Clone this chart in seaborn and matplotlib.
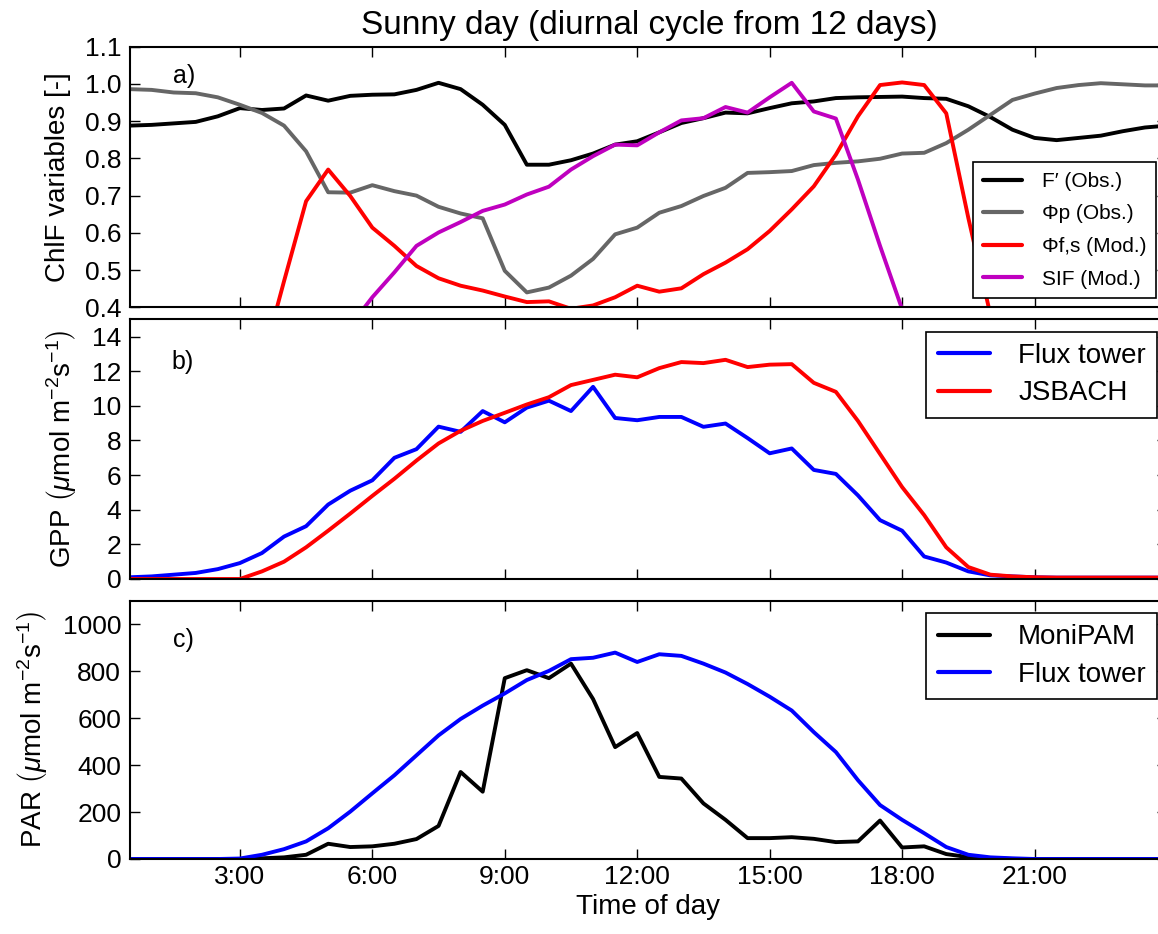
import matplotlib
matplotlib.use("Agg")
import matplotlib.pyplot as plt
import seaborn as sns

# ---------------- data ----------------
hours = [0.5, 1.0, 1.5, 2.0, 2.5, 3.0, 3.5, 4.0, 4.5, 5.0,
         5.5, 6.0, 6.5, 7.0, 7.5, 8.0, 8.5, 9.0, 9.5, 10.0,
         10.5, 11.0, 11.5, 12.0, 12.5, 13.0, 13.5, 14.0, 14.5, 15.0,
         15.5, 16.0, 16.5, 17.0, 17.5, 18.0, 18.5, 19.0, 19.5, 20.0,
         20.5, 21.0, 21.5, 22.0, 22.5, 23.0, 23.5, 24.0]

f_obs = [0.888, 0.890, 0.894, 0.898, 0.913, 0.935, 0.930, 0.934, 0.969, 0.955,
         0.968, 0.971, 0.972, 0.984, 1.003, 0.986, 0.944, 0.890, 0.783, 0.783,
         0.795, 0.813, 0.837, 0.846, 0.870, 0.895, 0.908, 0.923, 0.921, 0.935,
         0.948, 0.953, 0.962, 0.964, 0.965, 0.966, 0.962, 0.960, 0.940, 0.911,
         0.877, 0.855, 0.849, 0.855, 0.861, 0.873, 0.883, 0.888]

phi_p = [0.986, 0.984, 0.977, 0.975, 0.964, 0.944, 0.922, 0.888, 0.819, 0.709,
         0.708, 0.728, 0.712, 0.700, 0.670, 0.652, 0.639, 0.498, 0.440, 0.453,
         0.485, 0.530, 0.596, 0.614, 0.654, 0.672, 0.699, 0.721, 0.761, 0.763,
         0.766, 0.782, 0.788, 0.792, 0.799, 0.813, 0.815, 0.841, 0.877, 0.917,
         0.957, 0.974, 0.989, 0.997, 1.002, 0.999, 0.996, 0.996]

phi_fs = [0.22, 0.22, 0.22, 0.22, 0.22, 0.22, 0.25, 0.47, 0.685, 0.770,
          0.699, 0.614, 0.565, 0.511, 0.478, 0.458, 0.445, 0.429, 0.414, 0.416,
          0.396, 0.405, 0.427, 0.458, 0.442, 0.451, 0.489, 0.520, 0.556, 0.605,
          0.663, 0.725, 0.810, 0.913, 0.997, 1.004, 0.997, 0.921, 0.640, 0.380,
          0.22, 0.22, 0.22, 0.22, 0.22, 0.22, 0.22, 0.22]

sif = [0.20, 0.20, 0.20, 0.20, 0.20, 0.20, 0.20, 0.20, 0.20, 0.20,
       0.35, 0.427, 0.494, 0.565, 0.601, 0.629, 0.659, 0.676, 0.703, 0.724,
       0.770, 0.806, 0.837, 0.835, 0.870, 0.902, 0.908, 0.938, 0.923, 0.964,
       1.003, 0.926, 0.907, 0.743, 0.565, 0.395, 0.20, 0.20, 0.20, 0.20,
       0.20, 0.20, 0.20, 0.20, 0.20, 0.20, 0.20, 0.20]

gpp_flux = [0.10, 0.15, 0.25, 0.35, 0.57, 0.92, 1.50, 2.45, 3.05, 4.30,
            5.10, 5.70, 7.00, 7.50, 8.80, 8.50, 9.70, 9.05, 9.90, 10.30,
            9.70, 11.10, 9.30, 9.17, 9.36, 9.36, 8.79, 8.98, 8.14, 7.26,
            7.54, 6.30, 6.07, 4.83, 3.40, 2.79, 1.30, 0.95, 0.44, 0.21,
            0.15, 0.10, 0.08, 0.08, 0.08, 0.08, 0.08, 0.08]

gpp_jsbach = [0.0, 0.0, 0.0, 0.0, 0.0, 0.0, 0.44, 1.00, 1.83, 2.79,
              3.78, 4.80, 5.79, 6.84, 7.83, 8.56, 9.13, 9.60, 10.08, 10.50,
              11.20, 11.50, 11.80, 11.65, 12.18, 12.53, 12.47, 12.66, 12.24, 12.38,
              12.41, 11.33, 10.81, 9.13, 7.22, 5.31, 3.69, 1.83, 0.69, 0.25,
              0.15, 0.10, 0.08, 0.08, 0.08, 0.08, 0.08, 0.08]

par_monipam = [0, 0, 0, 0, 0, 0, 3, 7, 18, 65,
               51, 54, 65, 85, 141, 371, 287, 771, 805, 771,
               833, 682, 477, 537, 350, 343, 237, 167, 89, 89,
               93, 86, 72, 75, 164, 49, 54, 21, 8, 3,
               0, 0, 0, 0, 0, 0, 0, 0]

par_flux = [0, 0, 0, 0, 0, 2, 18, 42, 75, 131,
            202, 280, 357, 442, 527, 597, 654, 706, 763, 802,
            852, 858, 880, 840, 873, 866, 833, 795, 746, 692,
            633, 541, 456, 336, 230, 167, 110, 51, 18, 7,
            3, 0, 0, 0, 0, 0, 0, 0]

xtick_vals = [3, 6, 9, 12, 15, 18, 21]
xtick_labels = ["3:00", "6:00", "9:00", "12:00", "15:00", "18:00", "21:00"]

labels_a = ["F\u2032 (Obs.)", "\u03a6p (Obs.)", "\u03a6f,s (Mod.)", "SIF (Mod.)"]
labels_b = ["Flux tower", "JSBACH"]
labels_c = ["MoniPAM", "Flux tower"]

# ---------------- style ----------------
sns.set_style("ticks")
plt.rcParams.update({
    "font.family": ["Liberation Sans", "DejaVu Sans"],
    "mathtext.fontset": "custom",
    "mathtext.rm": "Liberation Sans",
    "mathtext.it": "Liberation Sans:italic",
    "mathtext.bf": "Liberation Sans:bold",
    "xtick.direction": "in", "ytick.direction": "in",
    "xtick.top": True, "ytick.right": True,
    "xtick.major.size": 7, "ytick.major.size": 7,
    "xtick.major.width": 1.0, "ytick.major.width": 1.0,
    "xtick.major.pad": 4.6, "ytick.major.pad": 6,
    "axes.linewidth": 1.5, "axes.edgecolor": "black",
    "xtick.color": "black", "ytick.color": "black",
    "text.color": "black", "axes.labelcolor": "black",
    "xtick.labelsize": 19, "ytick.labelsize": 19, "axes.labelsize": 20,
})

FW, FH = 1158, 934
fig = plt.figure(figsize=(FW / 100, FH / 100), dpi=100)
L = 129.5 / FW
W = (1167 - 129.5) / FW


def pos(top, bot):
    return [L, 1 - bot / FH, W, (bot - top) / FH]


ax_a = fig.add_axes(pos(46.7, 307.3))
ax_b = fig.add_axes(pos(319.3, 579.0))
ax_c = fig.add_axes(pos(601.0, 859.0))

LW = 2.8
for y, c in [(f_obs, "black"), (phi_p, "#666666"), (phi_fs, "#ff0000"), (sif, "#bf00bf")]:
    sns.lineplot(x=hours, y=y, ax=ax_a, color=c, lw=LW, estimator=None, legend=False)
for y, c in [(gpp_flux, "#0000ff"), (gpp_jsbach, "#ff0000")]:
    sns.lineplot(x=hours, y=y, ax=ax_b, color=c, lw=LW, estimator=None, legend=False)
for y, c in [(par_monipam, "black"), (par_flux, "#0000ff")]:
    sns.lineplot(x=hours, y=y, ax=ax_c, color=c, lw=LW, estimator=None, legend=False)

ax_a.set_ylim(0.4, 1.1)
ax_a.set_yticks([0.4, 0.5, 0.6, 0.7, 0.8, 0.9, 1.0, 1.1])
ax_b.set_ylim(0, 15)
ax_b.set_yticks([0, 2, 4, 6, 8, 10, 12, 14])
ax_c.set_ylim(0, 1100)
ax_c.set_yticks([0, 200, 400, 600, 800, 1000])

for ax in (ax_a, ax_b, ax_c):
    ax.set_xlim(0.5, 24)
    ax.set_xticks(xtick_vals)
    ax.grid(False)
    for s in ax.spines.values():
        s.set_visible(True)
        s.set_linewidth(1.5)
        s.set_color("black")
    ax.set_xlabel("")

ax_a.tick_params(labelbottom=False)
ax_b.tick_params(labelbottom=False)
ax_c.set_xticklabels(xtick_labels)
ax_c.set_xlabel("Time of day", fontsize=20, labelpad=3.5)

ax_a.set_ylabel("ChlF variables [-]", fontsize=20, labelpad=10)
ax_b.set_ylabel(r"GPP $\left(\mu\mathrm{mol\ m^{-2}s^{-1}}\right)$", fontsize=20, labelpad=10)
ax_c.set_ylabel(r"PAR $\left(\mu\mathrm{mol\ m^{-2}s^{-1}}\right)$", fontsize=20, labelpad=10)

ax_a.text(0.042, 0.888, "a)", transform=ax_a.transAxes, fontsize=18, va="center", ha="left")
ax_b.text(0.040, 0.834, "b)", transform=ax_b.transAxes, fontsize=18, va="center", ha="left")
ax_c.text(0.042, 0.849, "c)", transform=ax_c.transAxes, fontsize=18, va="center", ha="left")


def make_legend(ax, labels, loc, ax_px, ay_px, fs, bp, hl, tp, ls):
    lg = ax.legend(ax.get_lines(), labels, loc=loc,
                   bbox_to_anchor=(ax_px / FW, 1 - ay_px / FH),
                   bbox_transform=fig.transFigure, borderaxespad=0,
                   fontsize=fs, frameon=True, fancybox=False, framealpha=1,
                   edgecolor="black", borderpad=bp, handlelength=hl,
                   handletextpad=tp, labelspacing=ls)
    lg.get_frame().set_linewidth(1.2)
    for h in lg.get_lines():
        h.set_linewidth(3.0)
    return lg


make_legend(ax_a, labels_a, "lower right", 1156, 298.3, 15, 0.47, 1.86, 0.96, 0.65)
make_legend(ax_b, labels_b, "upper right", 1157, 331.7, 20, 0.4, 1.9, 1.0, 0.42)
make_legend(ax_c, labels_c, "upper right", 1157, 613.3, 20, 0.4, 1.9, 1.0, 0.42)

fig.text(649.8 / FW, 1 - 34 / FH, "Sunny day (diurnal cycle from 12 days)",
         ha="center", va="baseline", fontsize=24)

fig.savefig("out.png", dpi=100)
